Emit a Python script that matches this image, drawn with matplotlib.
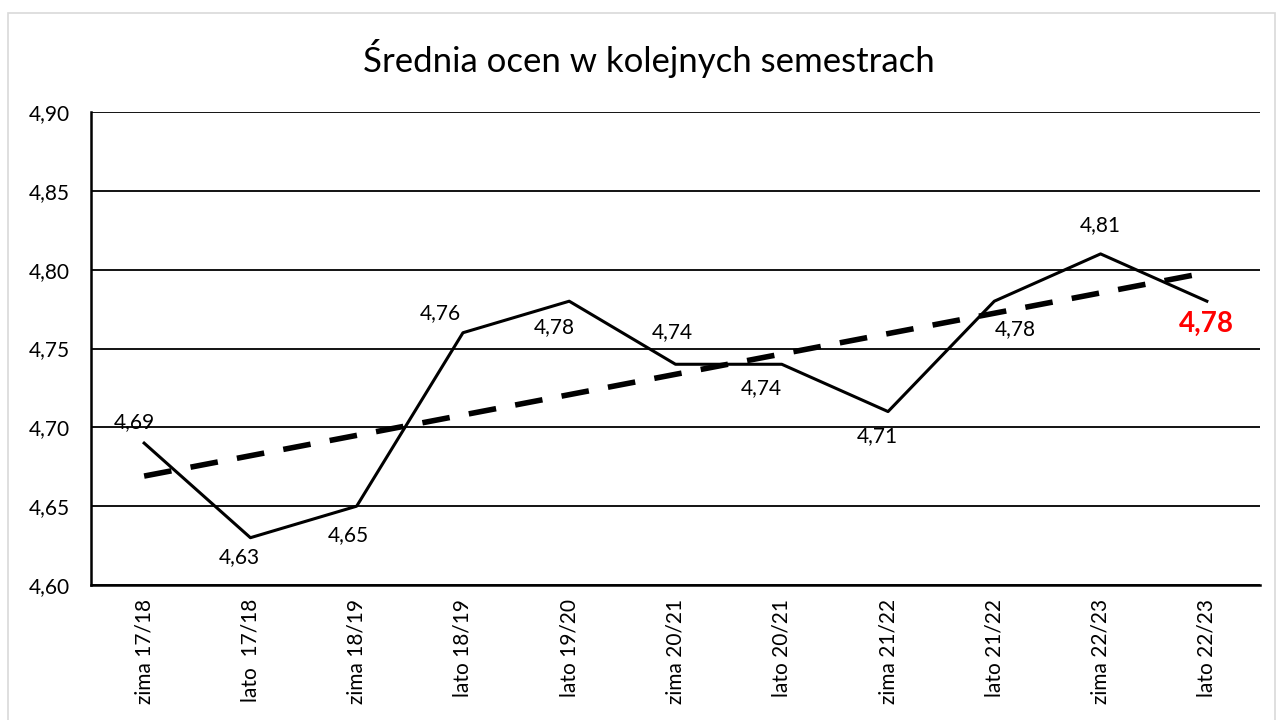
import matplotlib
matplotlib.use("Agg")
import matplotlib.pyplot as plt
import numpy as np
from matplotlib.patches import Rectangle

categories = ["zima 17/18", "lato  17/18", "zima 18/19", "lato 18/19", "lato 19/20",
              "zima 20/21", "lato 20/21", "zima 21/22", "lato 21/22", "zima 22/23", "lato 22/23"]
values = [4.69, 4.63, 4.65, 4.76, 4.78, 4.74, 4.74, 4.71, 4.78, 4.81, 4.78]
yticks = [4.60, 4.65, 4.70, 4.75, 4.80, 4.85, 4.90]
title = "Średnia ocen w kolejnych semestrach"

# label offsets (points) per data point
label_offsets = [(-7, 15), (-8, -14), (-6, -21), (-16, 14), (-11, -19), (-2, 23),
                 (-15, -17), (-8, -18), (15, -20), (0, 21), (0, -16)]

plt.rcParams['font.family'] = ['Lato', 'DejaVu Sans']

fig = plt.figure(figsize=(12.79, 7.2), dpi=100)
fig.patches.append(Rectangle((8/1279, -0.05), (1275-8)/1279, 1.05 - 13/720,
                             transform=fig.transFigure, fill=False, edgecolor="#d9d9d9", lw=1.2))
ax = fig.add_axes([91/1279, 1-585/720, (1260-91)/1279, (585-112)/720])

x = np.arange(len(categories))
ax.plot(x, values, color="black", lw=2.2, zorder=3)
coef = np.polyfit(x, values, 1)
trend = np.polyval(coef, x)
ax.plot(x, trend, color="black", lw=4.0, linestyle=(0, (5, 3.5)), zorder=4)

for i, (xi, v) in enumerate(zip(x, values)):
    dx, dy = label_offsets[i]
    txt = f"{v:.2f}".replace(".", ",")
    if i == len(values) - 1:
        ax.annotate(txt, (xi, v), xytext=(dx, dy), textcoords="offset points",
                    ha="center", va="center", fontsize=20, fontweight="bold", color="#ff0000")
    else:
        ax.annotate(txt, (xi, v), xytext=(dx, dy), textcoords="offset points",
                    ha="center", va="center", fontsize=15, color="black")

ax.set_xlim(-0.5, len(categories) - 0.5)
ax.set_ylim(4.60, 4.90)
ax.set_yticks(yticks)
ax.set_yticklabels([f"{t:.2f}".replace(".", ",") for t in yticks], fontsize=15)
ax.set_xticks(x)
ax.set_xticklabels(categories, rotation=90, fontsize=15, va="top")
ax.tick_params(axis="x", length=0, pad=10)
ax.tick_params(axis="y", length=0, pad=15)
ax.yaxis.grid(True, color="black", lw=1.3)
ax.set_axisbelow(True)
for s in ["top", "right"]:
    ax.spines[s].set_visible(False)
for s in ["left", "bottom"]:
    ax.spines[s].set_linewidth(1.8)
fig.text(649/1279, 1-58/720, title, ha="center", va="center", fontsize=25)

fig.savefig("out.png", dpi=100)
